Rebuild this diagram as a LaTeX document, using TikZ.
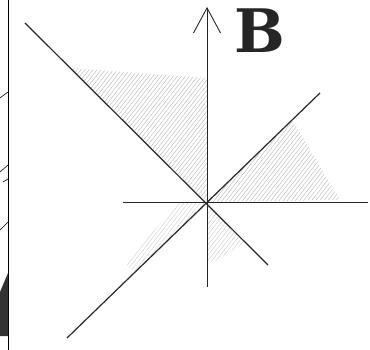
\documentclass[tikz,border=0pt]{standalone}
\usepackage{fontspec}
\newfontfamily\labelfont{DejaVu Serif}
\usetikzlibrary{arrows.meta,patterns.meta}

\begin{document}
\begin{tikzpicture}[
  x=1pt, y=-1pt,
  axis/.style={line width=0.9pt, black!85},
  ray/.style={line width=1.2pt, black!85},
  hatch/.style={draw=none, pattern={Lines[angle=52, distance=3.2pt, line width=0.45pt]},
                pattern color=gray!#1},
  edge/.style={line width=0.9pt, black},
]
% ---------- Rahmen ----------
\useasboundingbox (0,0) rectangle (370,350);
\coordinate (O) at (207,202);

% ---------- Schraffierte Bereiche ----------
\fill[hatch=55] (70,68) -- (207,78) -- (O) -- cycle;
\fill[hatch=55] (O) -- (293,121) -- (340,200) -- cycle;
\fill[hatch=35] (O) -- (178,203) -- (125,264) -- (135,272) -- cycle;
\fill[hatch=40] (O) -- (245,243) -- (214,262) -- (207,262) -- cycle;

% ---------- Achsen ----------
\coordinate (xl) at (123,202);
\coordinate (xr) at (368,202);
\coordinate (yb) at (207,287);
\coordinate (yt) at (207,7);
\draw[axis] (xl) -- (xr);
\draw[axis, -{Straight Barb[length=25pt, width=27pt, line width=0.9pt]}] (yb) -- (yt);

% ---------- Geraden ----------
\coordinate (a1) at (25,23);
\coordinate (a2) at (268,265);
\coordinate (b1) at (67,338);
\coordinate (b2) at (320,93);
\draw[ray] (a1) -- (a2);
\draw[ray] (b1) -- (b2);

% ---------- Beschriftung ----------
\node[inner sep=0pt, text=black!85] (lbl) at (260,31)
  {\labelfont\bfseries\fontsize{60}{60}\selectfont B};

% ---------- Rand des Nachbarbildes ----------
\coordinate (r1) at (8,0);
\coordinate (r2) at (8,350);
\draw[edge] (r1) -- (r2);
\draw[edge, line width=0.6pt] (0,98) -- (8,92);
\draw[edge, line width=0.6pt] (0,172) -- (8,165);
\draw[edge, line width=0.6pt] (3,182) -- (8,179);
\draw[edge, line width=0.6pt] (0,230) -- (8,222);
\fill[black!80] (8,273) -- (0,292) -- (0,336) -- (8,336) -- cycle;
\end{tikzpicture}
\end{document}
